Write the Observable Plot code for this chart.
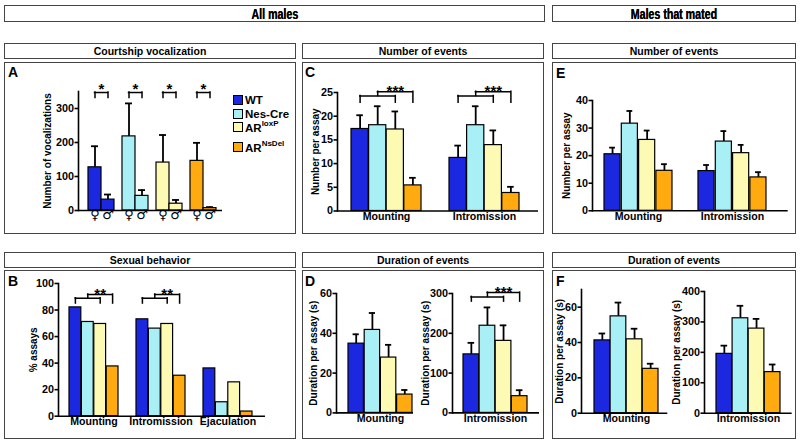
<!DOCTYPE html>
<html><head><meta charset="utf-8">
<script src="https://cdn.jsdelivr.net/npm/d3@7"></script>
<script src="https://cdn.jsdelivr.net/npm/@observablehq/plot@0.6"></script>
<style>
body{margin:0;background:#fff;}
#root{position:relative;width:800px;height:443px;font-family:"Liberation Sans",Arial,sans-serif;font-weight:bold;color:#000;overflow:hidden;background:#fff}
.box{position:absolute;border:1.6px solid #444;box-sizing:border-box}
.title{display:flex;align-items:center;justify-content:center;font-size:10.5px}
.hdr{font-size:14px}
.hdr span{display:inline-block;transform:scaleX(0.76);text-shadow:0.3px 0 0 #000}
.letter{position:absolute;font-size:14px;line-height:14px}
.leg{position:absolute;font-size:11.5px;line-height:12px;display:flex;align-items:center}
.sw{width:10px;height:10px;border:1px solid #000;margin-right:2px;box-sizing:border-box}
.leg sup{font-size:8px;line-height:8px;position:relative;top:-1px}
</style></head><body><div id="root"></div>
<script>
// ---------- data ----------
const genotypes = ["WT", "Nes-Cre", "ARloxP", "ARNsDel"];
const genoColors = ["#1c28e0", "#a8f0f6", "#fdfbb3", "#ffab10"];

// A: courtship vocalization (female / male recordings)
const vocalMeanF = [127, 218, 141, 146];
const vocalSemF = [62, 97, 81, 53];
const vocalMeanM = [32, 43, 20, 7];
const vocalSemM = [15, 17, 11, 3];
const vocalStars = ["*", "*", "*", "*"];
const vocalTicks = [0, 100, 200, 300];

// B: sexual behavior (% assays), rows = genotypes
const behav3 = ["Mounting", "Intromission", "Ejaculation"];
const pctAssays = [[82, 73, 36], [71, 66, 10.5], [69.5, 69.5, 25.5], [37.5, 30.5, 3.5]];
const pctTicks = [0, 20, 40, 60, 80, 100];
const pctStarGroups = ["Mounting", "Intromission"];
const pctStars = ["**", "**"];

// C: number of events, all males
const behav2 = ["Mounting", "Intromission"];
const numAllMean = [[17.3, 11.2], [18.1, 18.1], [17.2, 13.9], [5.4, 3.8]];
const numAllSem = [[2.9, 2.6], [4.0, 4.0], [3.8, 3.1], [1.6, 1.3]];
const numAllTicks = [0, 5, 10, 15, 20, 25];
const numAllStars = ["***", "***"];

// D: duration of events, all males
const durAllMountMean = [[34.8], [41.7], [27.8], [9.2]];
const durAllMountSem = [[4.7], [8.5], [6.4], [2.3]];
const durAllMountTicks = [0, 20, 40, 60];
const durAllIntroMean = [[147], [219], [181], [42]];
const durAllIntroSem = [[29], [46], [39], [15]];
const durAllIntroTicks = [0, 100, 200, 300];
const durAllIntroStars = ["***"];

// E: number of events, males that mated
const numMatedMean = [[20.5, 14.4], [31.6, 25.1], [25.7, 20.9], [14.5, 12.1]];
const numMatedSem = [[2.4, 2.2], [4.6, 3.8], [3.4, 3.0], [2.4, 1.9]];
const numMatedTicks = [0, 10, 20, 30, 40];

// F: duration of events, males that mated
const durMatedMountMean = [[41.2], [54.8], [41.8], [25.1]];
const durMatedMountSem = [[3.9], [7.8], [6.0], [2.9]];
const durMatedMountTicks = [0, 20, 40, 60];
const durMatedIntroMean = [[195], [312], [278], [135]];
const durMatedIntroSem = [[27], [41], [32], [25]];
const durMatedIntroTicks = [0, 100, 200, 300, 400];

// ---------- helpers ----------
const root = document.getElementById("root");
function box(cls, l, t, w, h, html) {
  const d = document.createElement("div");
  d.className = "box " + cls;
  Object.assign(d.style, {left: l + "px", top: t + "px", width: w + "px", height: h + "px"});
  if (html) d.innerHTML = html;
  root.appendChild(d);
}
function letter(ch, l, t) {
  const d = document.createElement("div");
  d.className = "letter"; d.textContent = ch;
  d.style.left = l + "px"; d.style.top = t + "px";
  root.appendChild(d);
}
const FONT = "Liberation Sans, Arial, sans-serif";
const LW = 1.6;

function geom(cfg) {
  const ML = 48, MR = 4, MT = 36, MB = 22;
  const left = cfg.axisX - ML, top = cfg.topY - MT;
  const width = ML + (cfg.endX - cfg.axisX) + MR;
  const height = MT + (cfg.baseY - cfg.topY) + MB;
  const n = cfg.groups.length;
  const bandW = cfg.nb * cfg.barW;
  const r0 = cfg.firstX - left;
  const r1 = r0 + (n - 1) * (cfg.step || 0) + bandW;
  return {ML, MR, MT, MB, left, top, width, height,
    x: {type: "band", domain: cfg.groups, range: [r0, r1], paddingInner: n > 1 ? 1 - bandW / cfg.step : 0, paddingOuter: 0, axis: null},
    y: {domain: [0, cfg.yMax], axis: null}};
}
function axesMarks(cfg, withX) {
  const m = [
    Plot.ruleY([0], {stroke: "#000", strokeWidth: LW}),
    Plot.frame({anchor: "left", stroke: "#000", strokeWidth: LW}),
    Plot.axisY({ticks: cfg.ticks, tickSize: 3.5, tickPadding: 1, tickFormat: d => String(d), label: null, fontSize: 10.8, strokeWidth: LW}),
    Plot.text([cfg.yLabel], {text: d => d, frameAnchor: "left", textAnchor: "middle", lineAnchor: "middle", rotate: -90, dx: -(cfg.axisX - cfg.labelX), fontSize: 10})
  ];
  if (withX) m.push(Plot.axisX({tickSize: 0, tickPadding: 1.5, label: null, fontSize: 10.6}));
  return m;
}
function render(cfg, g, marks) {
  const svg = Plot.plot({
    width: g.width, height: g.height,
    marginLeft: g.ML, marginRight: g.MR, marginTop: g.MT, marginBottom: g.MB,
    x: g.x, y: g.y,
    style: {fontFamily: FONT, fontWeight: "bold", fontSize: "11px", background: "none", overflow: "visible", color: "#000"},
    marks
  });
  svg.style.position = "absolute";
  svg.style.left = g.left + "px";
  svg.style.top = g.top + "px";
  root.appendChild(svg);
}

// grouped bar panel: rows of means per genotype
function groupedPanel(cfg) {
  const g = geom(cfg);
  const bw = cfg.barW, nb = cfg.nb, cap = 7;
  const marks = [];
  genotypes.forEach((gt, i) => {
    const rows = cfg.groups.map((grp, j) => ({grp, v: cfg.means[i][j], e: cfg.sems ? cfg.means[i][j] + cfg.sems[i][j] : null}));
    const off = (i - (nb - 1) / 2) * bw;
    if (cfg.sems) {
      marks.push(Plot.ruleX(rows, {x: "grp", y1: "v", y2: "e", dx: off, stroke: "#000", strokeWidth: 1.8}));
      marks.push(Plot.tickY(rows, {x: "grp", y: "e", insetLeft: i * bw + (bw - cap) / 2, insetRight: (nb - 1 - i) * bw + (bw - cap) / 2, stroke: "#000", strokeWidth: 1.8}));
    }
    marks.push(Plot.barY(rows, {x: "grp", y: "v", fill: genoColors[i], stroke: "#000", strokeWidth: 1.2, insetLeft: i * bw, insetRight: (nb - 1 - i) * bw}));
  });
  if (cfg.sig) {
    const s = cfg.sig, lw = 1.5, cap2 = "square";
    marks.push(
      Plot.tickY(s, {x: "grp", y: "lo", insetLeft: 0.5 * bw, insetRight: 1.5 * bw, strokeWidth: lw, strokeLinecap: cap2}),
      Plot.tickY(s, {x: "grp", y: "hi", insetLeft: 1.5 * bw, insetRight: 0.5 * bw, strokeWidth: lw, strokeLinecap: cap2}),
      Plot.ruleX(s, {x: "grp", y1: "lt", y2: "lo", dx: -1.5 * bw, strokeWidth: lw, strokeLinecap: cap2}),
      Plot.ruleX(s, {x: "grp", y1: "lt", y2: "lo", dx: 0.5 * bw, strokeWidth: lw, strokeLinecap: cap2}),
      Plot.ruleX(s, {x: "grp", y1: "lo", y2: "hi", dx: -0.5 * bw, strokeWidth: lw, strokeLinecap: cap2}),
      Plot.ruleX(s, {x: "grp", y1: "lt", y2: "hi", dx: 1.5 * bw, strokeWidth: lw, strokeLinecap: cap2}),
      Plot.text(s, {x: "grp", y: "star", text: "text", dx: 0.5 * bw, dy: 4, fontSize: 15})
    );
  }
  marks.push(...axesMarks(cfg, true));
  render(cfg, g, marks);
}
function sigRows(groups, stars, lt, lo, hi, star) {
  return groups.map((grp, i) => ({grp, text: stars[i], lt, lo, hi, star}));
}

// ---------- boxes ----------
box("title hdr", 4, 5, 541, 17, "<span>All males</span>");
box("title hdr", 552, 5, 244, 17, "<span>Males that mated</span>");
box("title", 4, 43, 292, 16, "Courtship vocalization");
box("title", 302, 43, 242, 16, "Number of events");
box("title", 552, 43, 244, 16, "Number of events");
box("", 4, 62, 292, 172);
box("", 302, 62, 242, 172);
box("", 552, 62, 244, 172);
box("title", 4, 252, 292, 16, "Sexual behavior");
box("title", 302, 252, 242, 16, "Duration of events");
box("title", 552, 252, 244, 16, "Duration of events");
box("", 4, 270, 292, 169);
box("", 302, 270, 242, 169);
box("", 552, 270, 244, 169);
letter("A", 8, 65); letter("B", 8, 274); letter("C", 305, 65);
letter("D", 305, 274); letter("E", 556, 66); letter("F", 556, 274);

// ---------- legend ----------
const legLabels = ["WT", "Nes-Cre", "AR<sup>loxP</sup>", "AR<sup>NsDel</sup>"];
const legY = [100, 114, 127, 147];
legLabels.forEach((t, i) => {
  const d = document.createElement("div");
  d.className = "leg";
  d.style.left = "233px"; d.style.top = (legY[i] - 6) + "px";
  d.innerHTML = `<div class="sw" style="background:${genoColors[i]}"></div><span>${t}</span>`;
  root.appendChild(d);
});

// ---------- panel A ----------
(function () {
  const cfg = {groups: genotypes, nb: 2, axisX: 78, baseY: 210, topY: 91, endX: 222, firstX: 88, step: 34, barW: 13,
    labelX: 47, yMax: 350, ticks: vocalTicks, yLabel: "Number of vocalizations"};
  const g = geom(cfg);
  const bw = cfg.barW, cap = 7;
  const rows = genotypes.map((gt, i) => ({gt, c: genoColors[i], f: vocalMeanF[i], fe: vocalMeanF[i] + vocalSemF[i],
    m: vocalMeanM[i], me: vocalMeanM[i] + vocalSemM[i], s: vocalStars[i]}));
  const marks = [
    Plot.ruleX(rows, {x: "gt", y1: "f", y2: "fe", dx: -bw / 2, strokeWidth: 1.8}),
    Plot.tickY(rows, {x: "gt", y: "fe", insetLeft: (bw - cap) / 2, insetRight: bw + (bw - cap) / 2, strokeWidth: 1.8}),
    Plot.ruleX(rows, {x: "gt", y1: "m", y2: "me", dx: bw / 2, strokeWidth: 1.8}),
    Plot.tickY(rows, {x: "gt", y: "me", insetLeft: bw + (bw - cap) / 2, insetRight: (bw - cap) / 2, strokeWidth: 1.8}),
    Plot.barY(rows, {x: "gt", y: "f", fill: "c", stroke: "#000", strokeWidth: 1.2, insetRight: bw}),
    Plot.barY(rows, {x: "gt", y: "m", fill: "c", stroke: "#000", strokeWidth: 1.2, insetLeft: bw}),
    // pair brackets
    Plot.tickY(rows, {x: "gt", y: () => 347, insetLeft: bw / 2, insetRight: bw / 2, strokeWidth: 1.5, strokeLinecap: "square"}),
    Plot.ruleX(rows, {x: "gt", y1: () => 331, y2: () => 347, dx: -bw / 2, strokeWidth: 1.5, strokeLinecap: "square"}),
    Plot.ruleX(rows, {x: "gt", y1: () => 331, y2: () => 347, dx: bw / 2, strokeWidth: 1.5, strokeLinecap: "square"}),
    Plot.text(rows, {x: "gt", y: () => 368, text: "s", dy: 4, fontSize: 15}),
    // sex symbols
    Plot.text(rows, {x: "gt", frameAnchor: "bottom", text: () => "\u2640", dx: -bw / 2, dy: 8, fontSize: 13, fontWeight: "normal", fontFamily: "DejaVu Sans"}),
    Plot.text(rows, {x: "gt", frameAnchor: "bottom", text: () => "\u2642", dx: bw / 2, dy: 8, fontSize: 13, fontWeight: "normal", fontFamily: "DejaVu Sans"}),
    ...axesMarks(cfg, false)
  ];
  render(cfg, g, marks);
})();

// ---------- panel B ----------
groupedPanel({groups: behav3, nb: 4, axisX: 58, baseY: 415.7, topY: 283, endX: 265, firstX: 68, step: 67.5, barW: 12.4,
  labelX: 33, yMax: 100, ticks: pctTicks, yLabel: "% assays", means: pctAssays, sems: null,
  sig: sigRows(pctStarGroups, pctStars, 84.9, 88.9, 91.7, 94.7)});

// ---------- panel C ----------
groupedPanel({groups: behav2, nb: 4, axisX: 337, baseY: 210, topY: 91.5, endX: 538, firstX: 350.7, step: 98.7, barW: 17.6,
  labelX: 315, yMax: 25, ticks: numAllTicks, yLabel: "Number per assay", means: numAllMean, sems: numAllSem,
  sig: sigRows(behav2, numAllStars, 22.85, 24.26, 25.17, 26.16)});

// ---------- panel D ----------
groupedPanel({groups: ["Mounting"], nb: 4, axisX: 336, baseY: 412, topY: 292.6, endX: 413, firstX: 347.3, barW: 16.2,
  labelX: 313, yMax: 60, ticks: durAllMountTicks, yLabel: "Duration per assay (s)", means: durAllMountMean, sems: durAllMountSem});
groupedPanel({groups: ["Intromission"], nb: 4, axisX: 452, baseY: 412, topY: 292.6, endX: 539, firstX: 462.3, barW: 16.1,
  labelX: 425, yMax: 300, ticks: durAllIntroTicks, yLabel: "Duration per assay (s)", means: durAllIntroMean, sems: durAllIntroSem,
  sig: sigRows(["Intromission"], durAllIntroStars, 279.6, 291.5, 302.3, 314)});

// ---------- panel E ----------
groupedPanel({groups: behav2, nb: 4, axisX: 592.3, baseY: 210.3, topY: 100, endX: 788, firstX: 603.3, step: 95, barW: 17.3,
  labelX: 567, yMax: 40, ticks: numMatedTicks, yLabel: "Number per assay", means: numMatedMean, sems: numMatedSem});

// ---------- panel F ----------
groupedPanel({groups: ["Mounting"], nb: 4, axisX: 580.7, baseY: 412.7, topY: 289, endX: 667, firstX: 594, barW: 16.1,
  labelX: 559, yMax: 70, ticks: durMatedMountTicks, yLabel: "Duration per assay (s)", means: durMatedMountMean, sems: durMatedMountSem});
groupedPanel({groups: ["Intromission"], nb: 4, axisX: 704.3, baseY: 412.7, topY: 291, endX: 792, firstX: 716, barW: 16.1,
  labelX: 677, yMax: 400, ticks: durMatedIntroTicks, yLabel: "Duration per assay (s)", means: durMatedIntroMean, sems: durMatedIntroSem});
</script></body></html>
